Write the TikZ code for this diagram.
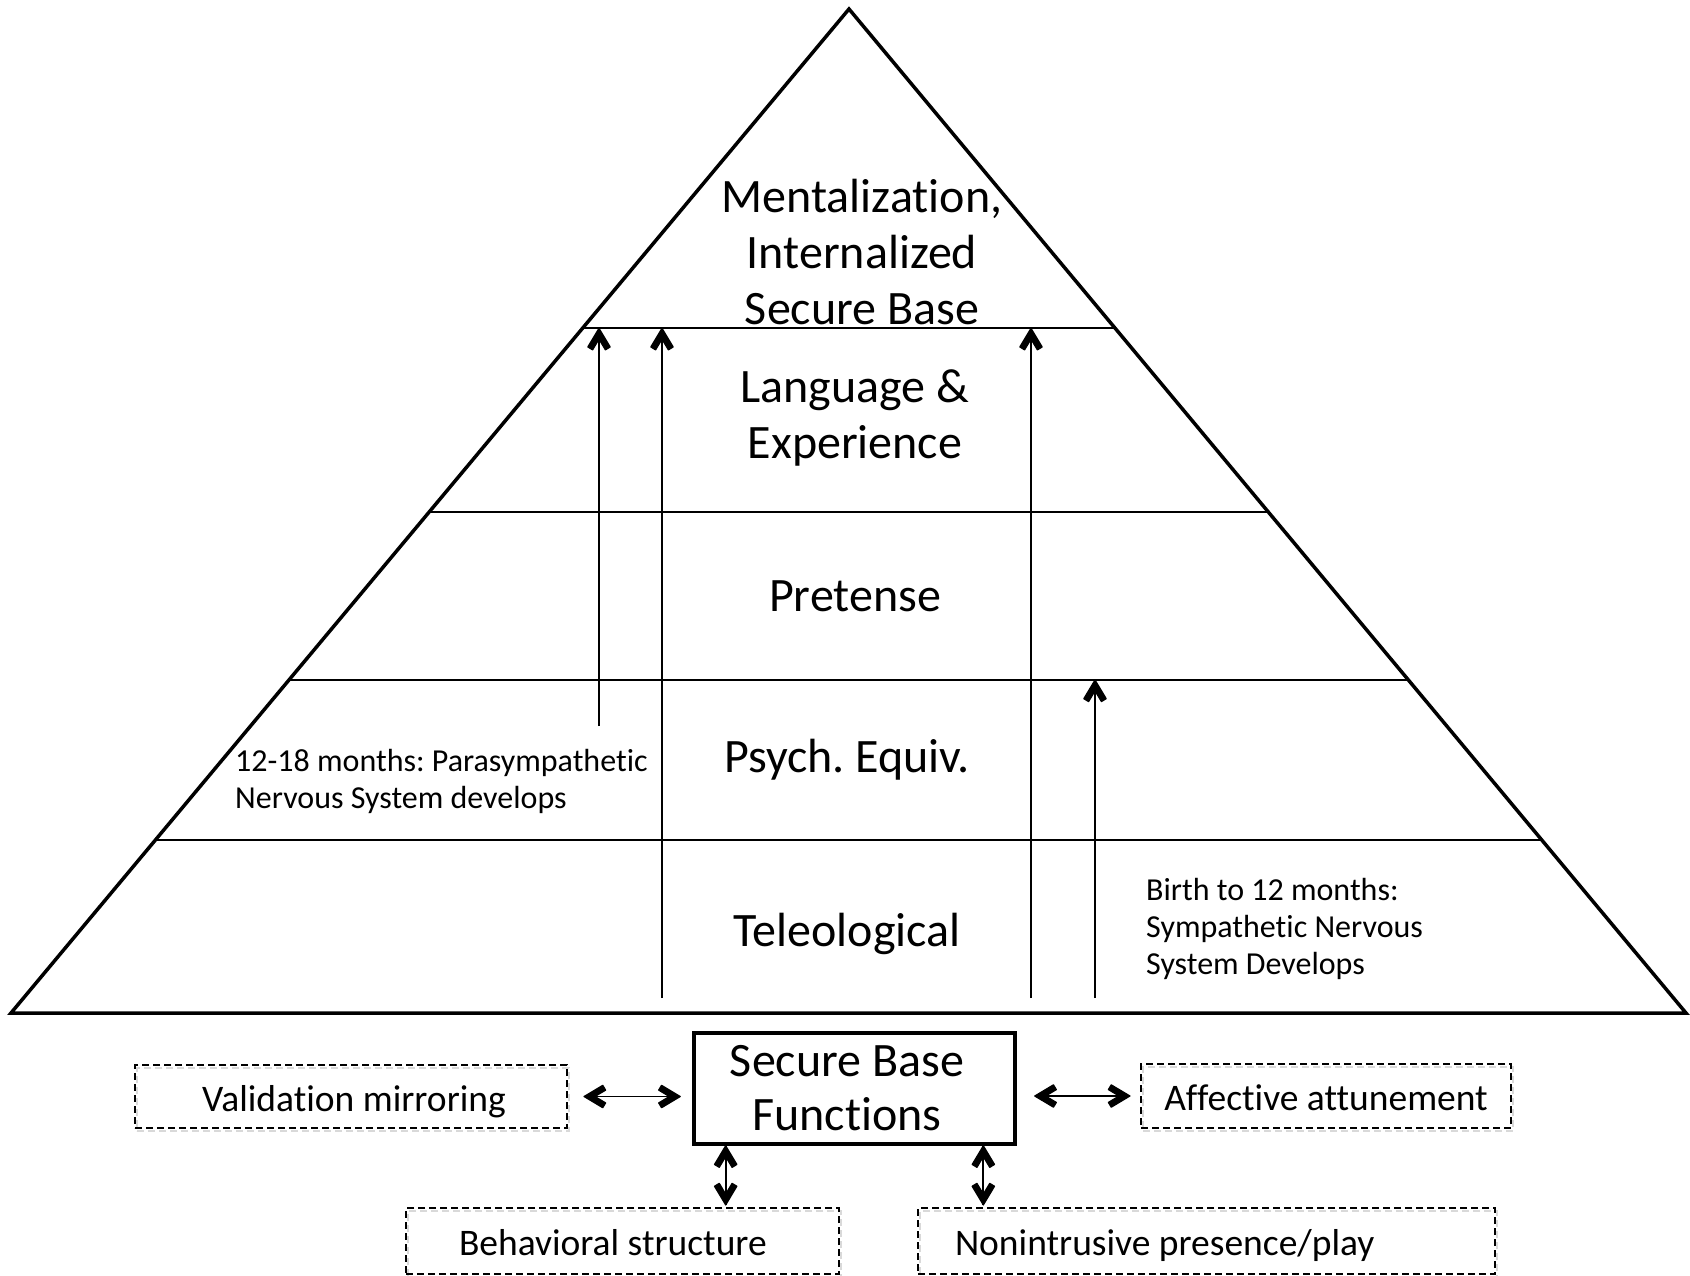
\documentclass[tikz,border=0pt]{standalone}
\usepackage{fontspec}
\setmainfont{Carlito}[Ligatures=NoCommon]
\usetikzlibrary{calc,decorations.markings}

\begin{document}
\frenchspacing
\begin{tikzpicture}[x=1pt,y=-1pt,
  level/.style={font=\fontsize{48}{56}\selectfont,align=center,inner sep=0pt},
  note/.style={font=\fontsize{32}{37}\selectfont,align=left,inner sep=0pt,anchor=west},
  layer/.style={line width=1.8pt},
  barbend/.style={decoration={markings,mark=at position 1 with {
      \filldraw[line width=1.2pt,line join=round]
        (0pt,0pt) -- (-18.7pt,11.2pt) -- (-21.6pt,6.4pt) -- (-10.9pt,0pt)
        -- (-21.6pt,-6.4pt) -- (-18.7pt,-11.2pt) -- cycle;}}},
  barbstart/.style={decoration={markings,mark=at position 0 with {
      \filldraw[line width=1.2pt,line join=round]
        (0pt,0pt) -- (18.7pt,11.2pt) -- (21.6pt,6.4pt) -- (10.9pt,0pt)
        -- (21.6pt,-6.4pt) -- (18.7pt,-11.2pt) -- cycle;}}},
  risearr/.style={line width=1.8pt,postaction={decorate,barbend}},
  linkarr/.style={line width=1.8pt,postaction={decorate,barbend},postaction={decorate,barbstart}},
  sbox/.style={draw,line width=3.5pt,font=\fontsize{48}{54}\selectfont,align=center,
    minimum width=321pt,minimum height=111pt,inner sep=0pt},
  dbox/.style={draw,line width=2.1pt,dash pattern=on 7pt off 4pt,
    font=\fontsize{37.5}{44}\selectfont,inner sep=0pt,minimum height=#1,
    text height=36pt,text depth=7pt,
    preaction={draw=black!15,line width=2pt,dash pattern=on 7pt off 4pt,
      transform canvas={shift={(2pt,-3pt)}}}},
  dbox/.default=64pt
  ]
\useasboundingbox (0,0) rectangle (1690,1275);
\def\lfour{0.682}
\def\lthree{0.499}
\def\ltwo{0.3317}
\def\lone{0.1723}
% pyramid
\coordinate (apex) at (849,9);
\coordinate (bl) at (11,1013);
\coordinate (br) at (1686,1013);
\draw[line width=3.5pt] (bl) -- (apex) -- (br) -- cycle;
\coordinate (l4w) at ($(bl)!\lfour!(apex)$);
\coordinate (l4e) at ($(br)!\lfour!(apex)$);
\coordinate (l3w) at ($(bl)!\lthree!(apex)$);
\coordinate (l3e) at ($(br)!\lthree!(apex)$);
\coordinate (l2w) at ($(bl)!\ltwo!(apex)$);
\coordinate (l2e) at ($(br)!\ltwo!(apex)$);
\coordinate (l1w) at ($(bl)!\lone!(apex)$);
\coordinate (l1e) at ($(br)!\lone!(apex)$);
\draw[layer] (l4w) -- (l4e);
\draw[layer] (l3w) -- (l3e);
\draw[layer] (l2w) -- (l2e);
\draw[layer] (l1w) -- (l1e);
% levels
\node[level] (ment) at (862,252) {Mentalization,\\Internalized\\Secure Base};
\node[level] (lang) at (855,418) {Language \&\\Experience};
\node[level] (pret) at (855,596) {Pretense};
\node[level] (psy) at (847,760) {Psych. Equiv.};
\node[level] (tel) at (847,934) {Teleological};
\node[note] (para) at (235,781) {12-18 months: Parasympathetic\\Nervous System develops};
\node[note] (symp) at (1146,929) {Birth to 12 months:\\Sympathetic Nervous\\System Develops};
% growth arrows
\coordinate (t1) at (599,726);
\coordinate (t2) at (662,998);
\coordinate (t3) at (1031,998);
\coordinate (t4) at (1095,998);
\draw[risearr] (t1) -- (t1 |- l4w);
\draw[risearr] (t2) -- (t2 |- l4w);
\draw[risearr] (t3) -- (t3 |- l4w);
\draw[risearr] (t4) -- (t4 |- l2w);
% functions
\node[sbox] (sbf) at (854.5,1088.5) {Secure Base\hspace*{15pt}\\Functions\hspace*{15pt}};
\node[dbox=63pt,minimum width=432pt] (vm) at (351,1096.5)
  {\hspace*{6pt}Validation mirroring};
\node[dbox,minimum width=370pt] (aa) at (1326,1096) {Affective attunement};
\node[dbox=66pt,minimum width=433pt] (bs) at (622.5,1241)
  {\makebox[327pt][l]{Behavioral structure}};
\node[dbox=66pt,minimum width=577pt] (np) at (1206.5,1241)
  {\makebox[503pt][l]{Nonintrusive presence/play}};
\coordinate (la) at ($(vm.east)+(16,0)$);
\coordinate (lb) at ($(vm.east -| sbf.west)+(-12,0)$);
\coordinate (ra) at ($(aa.west -| sbf.east)+(18,0)$);
\coordinate (rb) at ($(aa.west)+(-10,0)$);
\coordinate (sl) at ($(sbf.south west)!0.103!(sbf.south east)$);
\coordinate (sr) at ($(sbf.south west)!0.897!(sbf.south east)$);
\coordinate (slb) at ($(sl |- bs.north)+(0,-2)$);
\coordinate (srb) at ($(sr |- np.north)+(0,-2)$);
\draw[linkarr] (la) -- (lb);
\draw[linkarr] (ra) -- (rb);
\draw[linkarr] (sl) -- (slb);
\draw[linkarr] (sr) -- (srb);
\end{tikzpicture}
\end{document}
